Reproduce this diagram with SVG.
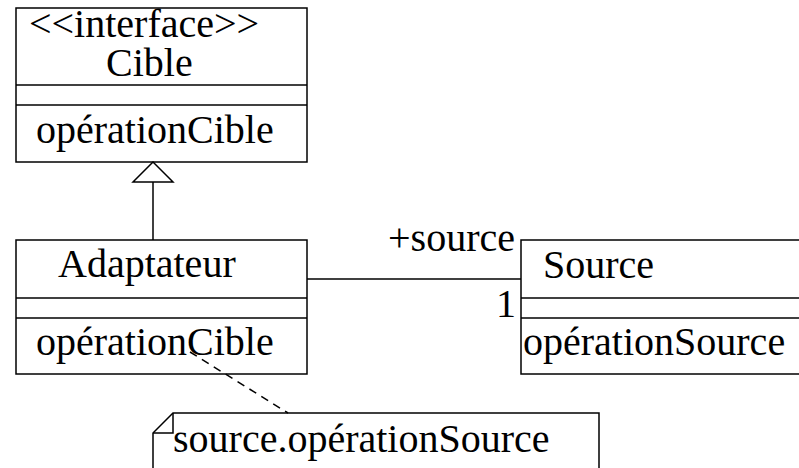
<svg xmlns="http://www.w3.org/2000/svg" width="799" height="468" viewBox="0 0 799 468">
<style>
.box{fill:#fff;stroke:#000;stroke-width:1.5}
.ln{fill:none;stroke:#000;stroke-width:1.5}
.t{font-family:'Liberation Serif','DejaVu Serif',serif;font-size:40px;fill:#000}
</style>
<rect width="799" height="468" fill="#fff"/>
<g id="cible">
<rect class="box" x="16" y="8" width="291" height="154"/>
<line class="ln" x1="16" y1="85" x2="307" y2="85"/>
<line class="ln" x1="16" y1="105" x2="307" y2="105"/>
<text class="t" x="29" y="37">&lt;&lt;interface&gt;&gt;</text>
<text class="t" x="106" y="76">Cible</text>
<text class="t" x="36" y="143">opérationCible</text>
</g>
<g id="adaptateur">
<rect class="box" x="16" y="240" width="291" height="134"/>
<line class="ln" x1="16" y1="298" x2="307" y2="298"/>
<line class="ln" x1="16" y1="318" x2="307" y2="318"/>
<text class="t" x="58" y="277">Adaptateur</text>
<text class="t" x="36" y="355">opérationCible</text>
</g>
<g id="source">
<rect class="box" x="521" y="240" width="320" height="134"/>
<line class="ln" x1="521" y1="298" x2="841" y2="298"/>
<line class="ln" x1="521" y1="318" x2="841" y2="318"/>
<text class="t" x="543" y="278">Source</text>
<text class="t" x="523" y="355">opérationSource</text>
</g>
<g id="note">
<path class="box" d="M153,480 L153,433 L173,413 L599,413 L599,480"/>
<path class="ln" d="M153,433 L173,433 L173,413"/>
<text class="t" x="173" y="452">source.opérationSource</text>
</g>
<g id="connectors">
<line class="ln" x1="153" y1="182" x2="153" y2="240"/>
<polygon class="box" points="153,162 133,182 173,182"/>
<line class="ln" x1="307" y1="279" x2="521" y2="279"/>
<text class="t" x="515" y="251" text-anchor="end">+source</text>
<text class="t" x="516" y="317" text-anchor="end">1</text>
<line class="ln" x1="190" y1="352" x2="288" y2="413" stroke-dasharray="8,6"/>
</g>
</svg>
